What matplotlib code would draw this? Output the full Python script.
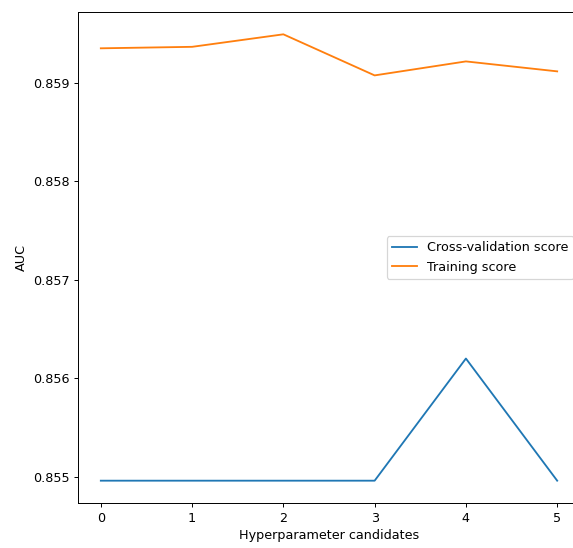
import matplotlib
matplotlib.use("Agg")
import matplotlib.pyplot as plt

candidates = [0, 1, 2, 3, 4, 5]
cv_score = [0.85496, 0.85496, 0.85496, 0.85496, 0.85620, 0.85496]
train_score = [0.859349, 0.859364, 0.859491, 0.859074, 0.859216, 0.859115]

plt.rcParams["font.size"] = 10.4

dpi = 88
fig = plt.figure(figsize=(573 / dpi, 548 / dpi), dpi=dpi)
W, H = 573, 548
left, right, top, bottom = 78, 580, 12, 503
ax = fig.add_axes([left / W, 1 - bottom / H, (right - left) / W, (bottom - top) / H])

ax.plot(candidates, cv_score, label="Cross-validation score")
ax.plot(candidates, train_score, label="Training score")
ax.set_xlabel("Hyperparameter candidates")
ax.set_ylabel("AUC")
ax.set_yticks([0.855, 0.856, 0.857, 0.858, 0.859])
ax.legend(loc="center right")

fig.savefig("out.png", dpi=dpi)
